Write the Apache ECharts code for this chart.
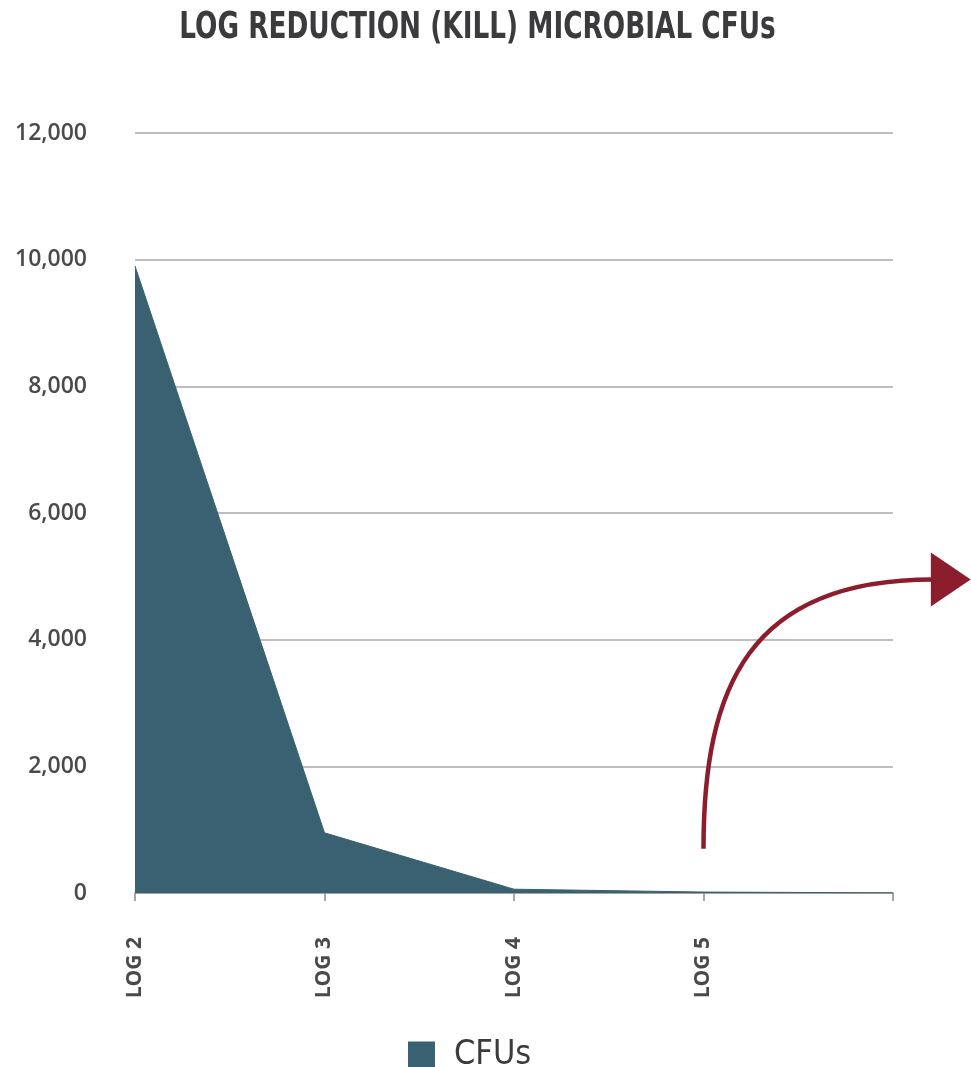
<!DOCTYPE html>
<html>
<head>
<meta charset="utf-8">
<style>
  html, body { margin: 0; padding: 0; background: #ffffff; }
  #chart { width: 971px; height: 1067px; }
</style>
<script src="https://cdn.jsdelivr.net/npm/echarts@6/dist/echarts.min.js"></script>
</head>
<body>
<div id="chart"></div>
<script>
// Colony-forming units remaining at each log-reduction step
const categories = ['LOG 2', 'LOG 3', 'LOG 4', 'LOG 5', ''];
const cfuValues = [9900, 950, 60, 15, 2];
const yTicks = { min: 0, max: 12000, interval: 2000 };
const titleText = 'LOG REDUCTION (KILL) MICROBIAL CFUs';

// Curved "continues" arrow: starts at LOG 5, bends toward the right edge
const arrowStartValue = 700;
const arrowEndValue = 4950;

const condensed = '"DejaVu Sans Condensed", "Liberation Sans Narrow", sans-serif';
const labelFont = '"Open Sans", "Noto Sans", sans-serif';
const areaColor = '#3a6171';
const arrowColor = '#8c1d2c';
const textColor = '#3b3b3e';

const chart = echarts.init(document.getElementById('chart'), null, { renderer: 'canvas' });

chart.setOption({
  animation: false,
  backgroundColor: '#ffffff',
  legend: {
    left: 403,
    top: 1033,
    icon: 'rect',
    itemWidth: 27,
    itemHeight: 27,
    data: ['CFUs'],
    textStyle: {
      fontFamily: condensed,
      fontWeight: 500,
      fontSize: 34,
      color: textColor,
      padding: [0, 0, 0, 14]
    }
  },
  grid: {
    left: 135,
    right: 78,
    top: 133,
    bottom: 174,
    containLabel: false
  },
  xAxis: {
    type: 'category',
    data: categories,
    boundaryGap: false,
    axisLine: { lineStyle: { color: '#9a9a9a', width: 1.5 } },
    axisTick: { show: true, length: 8, lineStyle: { color: '#8a8a8a', width: 1.5 } },
    axisLabel: {
      rotate: 90,
      margin: 44,
      fontFamily: labelFont,
      fontWeight: 'bold',
      fontSize: 21,
      color: '#4a4a4a'
    },
    splitLine: { show: false }
  },
  yAxis: {
    type: 'value',
    min: yTicks.min,
    max: yTicks.max,
    interval: yTicks.interval,
    axisLine: { show: false },
    axisTick: { show: false },
    axisLabel: {
      margin: 48,
      fontFamily: labelFont,
      fontWeight: 600,
      fontSize: 23,
      color: '#4a4a4a',
      formatter: v => v.toLocaleString('en-US')
    },
    splitLine: { lineStyle: { color: '#a8a8a8', width: 1.5 } }
  },
  series: [{
    name: 'CFUs',
    type: 'line',
    data: cfuValues,
    symbol: 'none',
    itemStyle: { color: areaColor },
    lineStyle: { color: areaColor, width: 1 },
    areaStyle: { color: areaColor, opacity: 1 },
    z: 3
  }]
});

// Title (horizontally condensed) and the arrow, placed via the chart's coordinate system
function drawOverlay() {
  const toPx = (cat, val) => chart.convertToPixel({ xAxisIndex: 0, yAxisIndex: 0 }, [cat, val]);
  const start = toPx(3, arrowStartValue);
  const lastCat = toPx(4, 0);
  const step = lastCat[0] - toPx(3, 0)[0];
  const endX = lastCat[0] + step * 0.2;
  const endY = toPx(4, arrowEndValue)[1];
  const dx = endX - start[0];
  const dy = start[1] - endY;
  const headLen = step * 0.21;
  const headHalf = 27;
  const width = chart.getWidth();

  chart.setOption({
    graphic: [
      {
        type: 'text',
        x: width / 2 - 8,
        y: 9,
        scaleX: 0.77,
        originX: 0,
        style: {
          text: titleText,
          fontFamily: condensed,
          fontWeight: 'bold',
          fontSize: 38,
          fill: textColor,
          align: 'center',
          verticalAlign: 'top'
        }
      },
      {
        type: 'bezierCurve',
        z: 10,
        shape: {
          x1: start[0], y1: start[1],
          cpx1: start[0], cpy1: start[1] - dy * 0.6,
          cpx2: endX - dx * 0.8, cpy2: endY,
          x2: endX + 2, y2: endY
        },
        style: { stroke: arrowColor, lineWidth: 4.5, fill: null }
      },
      {
        type: 'polygon',
        z: 10,
        shape: {
          points: [
            [endX, endY - headHalf],
            [endX + headLen, endY],
            [endX, endY + headHalf]
          ]
        },
        style: { fill: arrowColor }
      }
    ]
  });
}
drawOverlay();
</script>
</body>
</html>
